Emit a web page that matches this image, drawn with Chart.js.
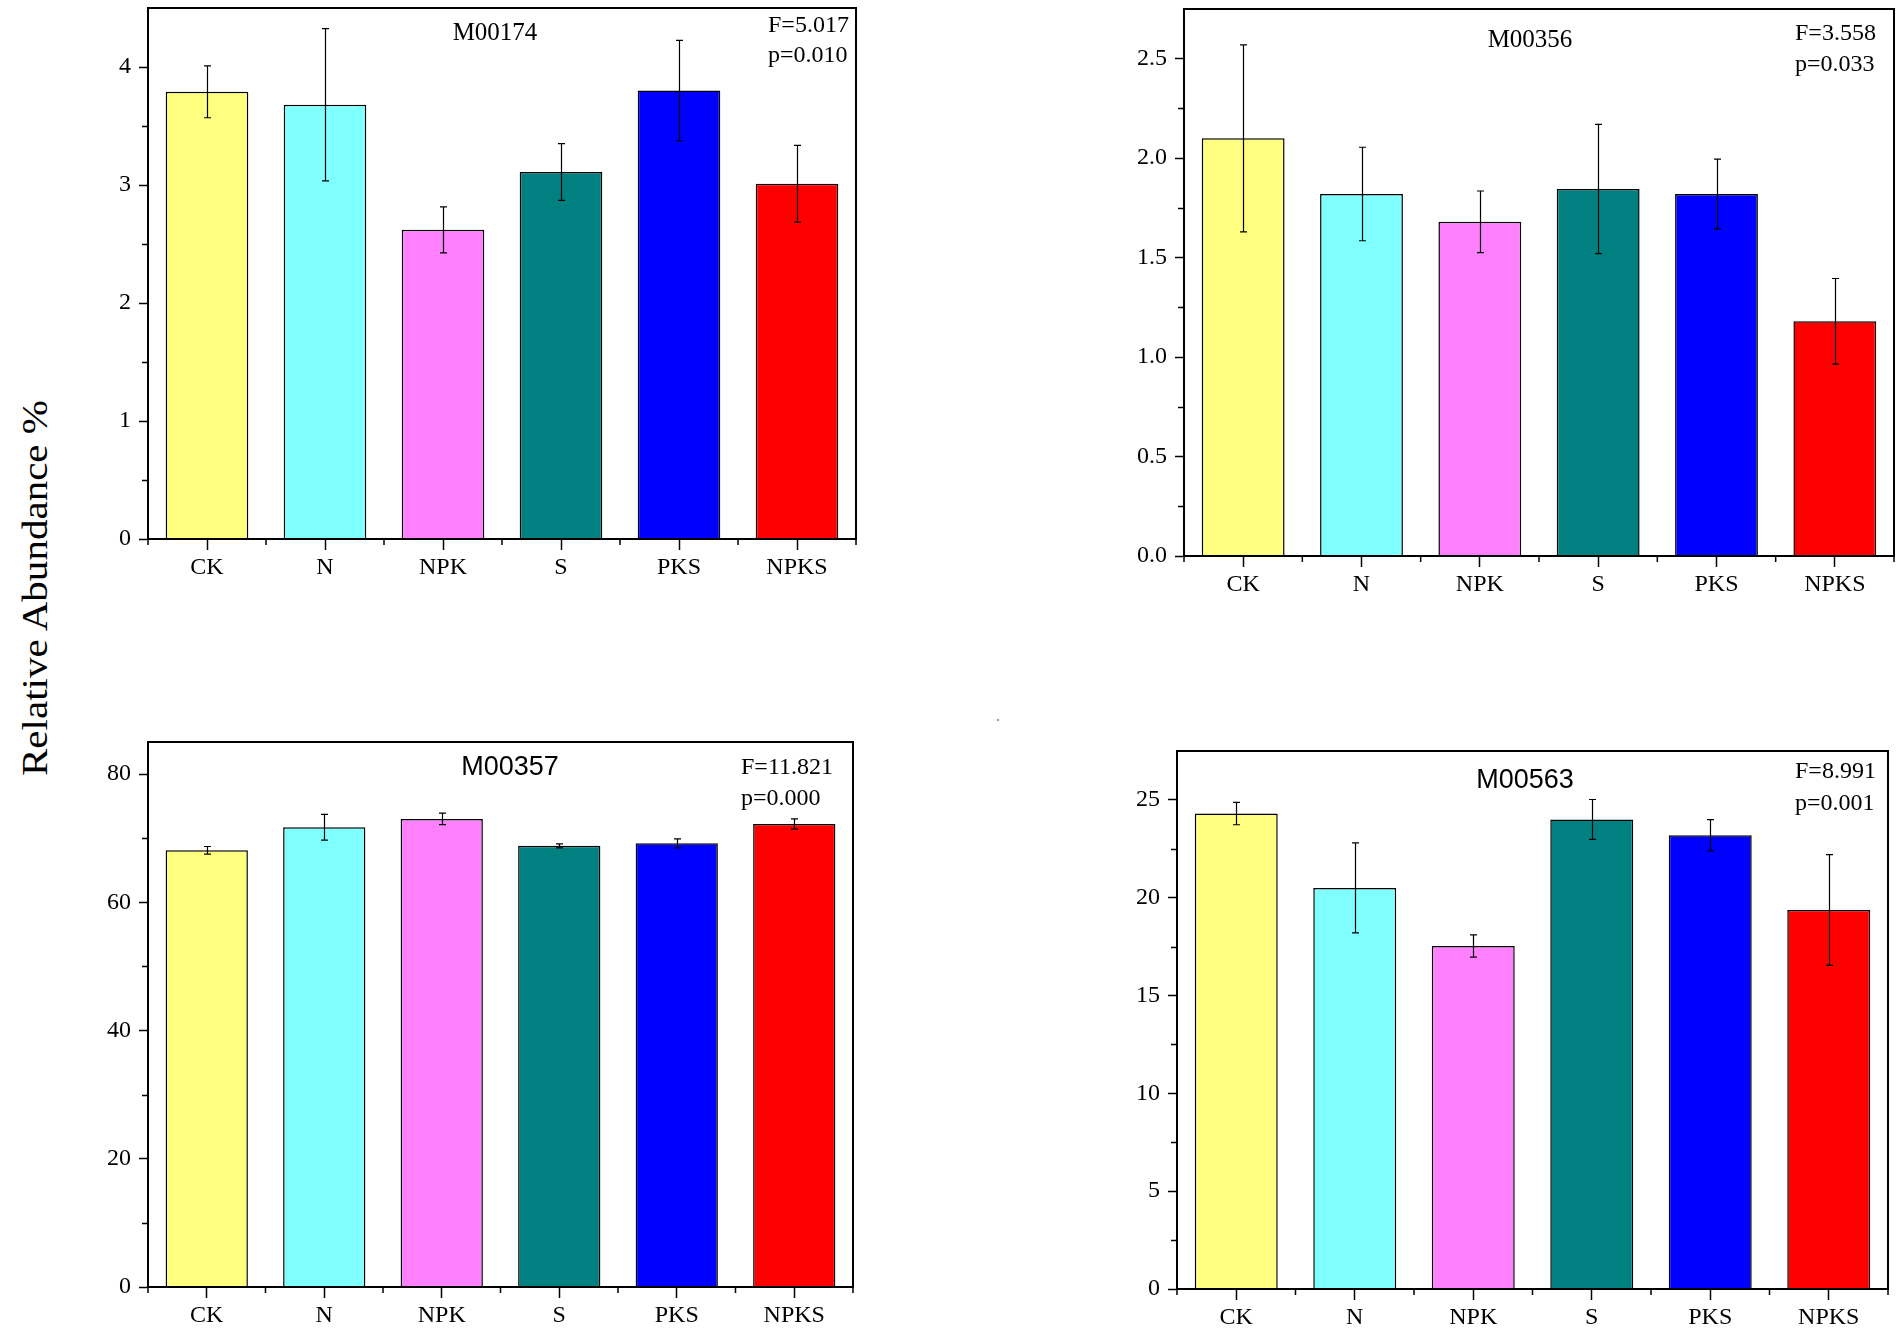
<!DOCTYPE html>
<html>
<head>
<meta charset="utf-8">
<script src="https://cdn.jsdelivr.net/npm/chart.js@4.4.0/dist/chart.umd.min.js"></script>
<style>
  html, body { margin: 0; padding: 0; background: #fff; }
  body { position: relative; width: 1902px; height: 1335px; overflow: hidden; font-family: 'Liberation Serif', serif; color: #000; }
  .box { position: absolute; }
  .txt { position: absolute; line-height: 1; white-space: nowrap; }
  .title { transform: translate(-50%, -50%); font-size: 25px; }
  .title.sans { font-family: 'Liberation Sans', Arial, sans-serif; font-size: 27px; }
  .stat { transform: translateY(-50%); font-size: 24px; }
  #ylab { left: 35px; top: 588px; font-size: 36px; transform: translate(-50%, -50%) rotate(-90deg) scaleX(1.14); }
  #speck { position: absolute; left: 997px; top: 719px; width: 2px; height: 2px; background: #999; }
</style>
</head>
<body>
<div class="txt" id="ylab">Relative Abundance %</div>
<div id="speck"></div>

<script>
// categories and values
const categories = ['CK', 'N', 'NPK', 'S', 'PKS', 'NPKS'];
const barColors = ['#FFFF80', '#80FFFF', '#FF80FF', '#008080', '#0000FF', '#FF0000'];

const m00174Mean = [3.79, 3.68, 2.62, 3.11, 3.80, 3.01];
const m00174Err  = [0.22, 0.645, 0.195, 0.24, 0.425, 0.325];
const m00356Mean = [2.10, 1.82, 1.68, 1.845, 1.82, 1.18];
const m00356Err  = [0.47, 0.235, 0.155, 0.325, 0.175, 0.215];
const m00357Mean = [68.1, 71.7, 73.0, 68.8, 69.2, 72.2];
const m00357Err  = [0.6, 2.0, 0.9, 0.3, 0.7, 0.8];
const m00563Mean = [24.3, 20.5, 17.53, 24.0, 23.19, 19.37];
const m00563Err  = [0.57, 2.3, 0.57, 1.02, 0.8, 2.83];

const titles = ['M00174', 'M00356', 'M00357', 'M00563'];
const fStats = ['F=5.017', 'F=3.558', 'F=11.821', 'F=8.991'];
const pStats = ['p=0.010', 'p=0.033', 'p=0.000', 'p=0.001'];

// axis ranges: [max, major step, minor step, decimals]
const m00174Axis = [4.5, 1, 0.5, 0];
const m00356Axis = [2.75, 0.5, 0.25, 1];
const m00357Axis = [85, 20, 10, 0];
const m00563Axis = [27.5, 5, 2.5, 0];

const Y_W = 80, X_H = 60, PAD_T = 26, PAD_R = 8;

// plot frames on the page
const panels = [
  { mean: m00174Mean, err: m00174Err, axis: m00174Axis, l: 148, t: 8, r: 856, b: 539,
    title: [495, 31], sans: false, stat: [768, 24, 54] },
  { mean: m00356Mean, err: m00356Err, axis: m00356Axis, l: 1184, t: 9, r: 1894, b: 556,
    title: [1530, 38], sans: false, stat: [1795, 32, 63] },
  { mean: m00357Mean, err: m00357Err, axis: m00357Axis, l: 148, t: 742, r: 853, b: 1287,
    title: [510, 766], sans: true, stat: [741, 766, 797] },
  { mean: m00563Mean, err: m00563Err, axis: m00563Axis, l: 1177, t: 751, r: 1888, b: 1289,
    title: [1525, 779], sans: true, stat: [1795, 770, 802] },
];

Chart.defaults.font.family = "'Liberation Serif', serif";
Chart.defaults.color = '#000';

const originStyle = {
  id: 'originStyle',
  afterDatasetsDraw(chart, args, opts) {
    const { ctx, scales: { y } } = chart;
    const means = chart.data.datasets[0].data;
    const meta = chart.getDatasetMeta(0);
    ctx.save();
    ctx.strokeStyle = '#000';
    ctx.lineWidth = 1.2;
    means.forEach((m, i) => {
      const bx = Math.round(meta.data[i].x) + 0.5;
      const yt = y.getPixelForValue(m + opts.errors[i]);
      const yb = y.getPixelForValue(m - opts.errors[i]);
      ctx.beginPath();
      ctx.moveTo(bx, yt); ctx.lineTo(bx, yb);
      ctx.moveTo(bx - 3.5, yt); ctx.lineTo(bx + 3.5, yt);
      ctx.moveTo(bx - 3.5, yb); ctx.lineTo(bx + 3.5, yb);
      ctx.stroke();
    });
    ctx.restore();
  },
  afterDraw(chart, args, opts) {
    const { ctx, chartArea: a, scales: { x, y } } = chart;
    ctx.save();
    ctx.strokeStyle = '#000';
    ctx.lineWidth = 2;
    ctx.strokeRect(a.left, a.top, a.right - a.left, a.bottom - a.top);
    // minor ticks on y
    ctx.lineWidth = 1.5;
    ctx.beginPath();
    for (let v = opts.minor; v < y.max; v += opts.minor * 2) {
      const py = Math.round(y.getPixelForValue(v)) + 0.5;
      ctx.moveTo(a.left, py); ctx.lineTo(a.left - 6, py);
    }
    // minor ticks on x, between categories
    const half = (x.getPixelForValue(1) - x.getPixelForValue(0)) / 2;
    for (let i = 0; i <= categories.length; i++) {
      const px = x.getPixelForValue(0) - half + i * 2 * half;
      ctx.moveTo(px, a.bottom); ctx.lineTo(px, a.bottom + 6);
    }
    ctx.stroke();
    ctx.restore();
  }
};

panels.forEach((p, k) => {
  const box = document.createElement('div');
  box.className = 'box';
  box.style.left = (p.l - Y_W) + 'px';
  box.style.top = (p.t - PAD_T) + 'px';
  box.style.width = (p.r - p.l + Y_W + PAD_R) + 'px';
  box.style.height = (p.b - p.t + PAD_T + X_H) + 'px';
  const cv = document.createElement('canvas');
  box.appendChild(cv);
  document.body.appendChild(box);

  const [yMax, yStep, yMinor, yDec] = p.axis;

  new Chart(cv, {
    type: 'bar',
    data: {
      labels: categories,
      datasets: [{
        data: p.mean,
        backgroundColor: barColors,
        borderColor: '#000',
        borderWidth: 1.5,
        barPercentage: 0.7,
        categoryPercentage: 1,
      }],
    },
    options: {
      responsive: true,
      maintainAspectRatio: false,
      animation: false,
      layout: { padding: { top: PAD_T, right: PAD_R, left: 0, bottom: 0 } },
      plugins: {
        legend: { display: false },
        tooltip: { enabled: false },
        originStyle: { errors: p.err, minor: yMinor },
      },
      scales: {
        x: {
          grid: { drawOnChartArea: false, offset: false, tickLength: 11, tickWidth: 1.5, tickColor: '#000' },
          border: { color: '#000', width: 2 },
          ticks: { font: { size: 24 }, color: '#000', padding: 3, maxRotation: 0 },
          afterFit: s => { s.height = X_H; },
        },
        y: {
          min: 0,
          max: yMax,
          grid: { drawOnChartArea: false, tickLength: 9, tickWidth: 1.5, tickColor: '#000' },
          border: { color: '#000', width: 2 },
          ticks: {
            stepSize: yStep,
            includeBounds: false,
            font: { size: 24 },
            color: '#000',
            padding: 8,
            callback: v => Number(v).toFixed(yDec),
          },
          afterFit: s => { s.width = Y_W; },
        },
      },
    },
    plugins: [originStyle],
  });

  const t = document.createElement('div');
  t.className = 'txt title' + (p.sans ? ' sans' : '');
  t.style.left = p.title[0] + 'px';
  t.style.top = p.title[1] + 'px';
  t.textContent = titles[k];
  document.body.appendChild(t);

  const f = document.createElement('div');
  f.className = 'txt stat';
  f.style.left = p.stat[0] + 'px';
  f.style.top = p.stat[1] + 'px';
  f.textContent = fStats[k];
  document.body.appendChild(f);

  const pv = document.createElement('div');
  pv.className = 'txt stat';
  pv.style.left = p.stat[0] + 'px';
  pv.style.top = p.stat[2] + 'px';
  pv.textContent = pStats[k];
  document.body.appendChild(pv);
});
</script>
</body>
</html>
